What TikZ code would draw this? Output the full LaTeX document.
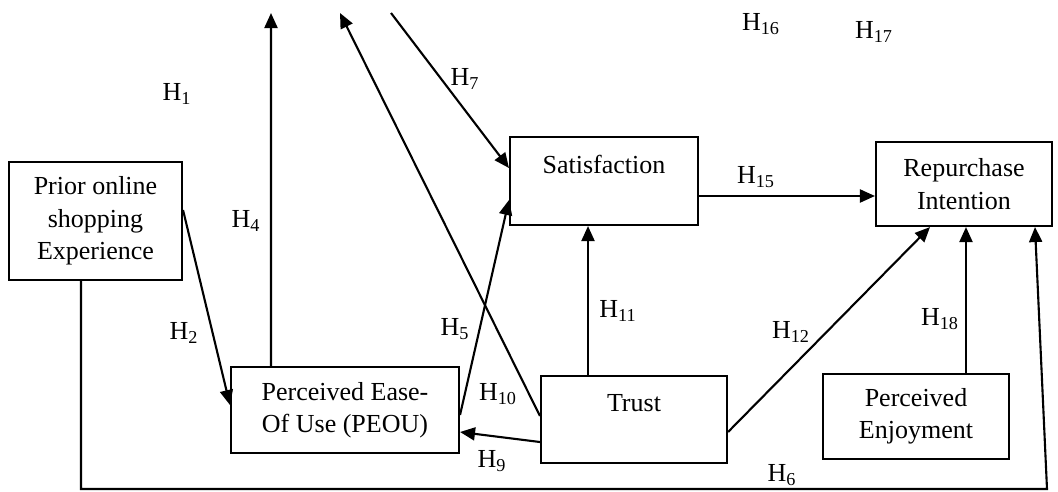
\documentclass[tikz,border=0pt]{standalone}
\usepackage{fontspec}
\setmainfont{Liberation Serif}
\usetikzlibrary{arrows.meta}

\begin{document}
\begin{tikzpicture}[x=0.02cm, y=-0.02cm, >={Triangle[length=0.3cm,width=0.26cm]},
  line width=1.2pt, font=\fontsize{14.8}{18.5}\selectfont,
  box/.style={draw, align=center, inner sep=0pt}]
  \useasboundingbox (0,0) rectangle (1058,491);
  % constructs
  \node[box, minimum width=3.46cm, minimum height=2.36cm] (prior) at (95.5,221) {Prior online\\shopping\\Experience};
  \node[box, minimum width=4.56cm, minimum height=1.72cm] (peou) at (345,410) {Perceived Ease-\\Of Use (PEOU)};
  \node[box, minimum width=3.76cm, minimum height=1.76cm] (sat) at (604,181) {Satisfaction\\\mbox{}};
  \node[box, minimum width=3.52cm, minimum height=1.68cm] (rep) at (964,184) {Repurchase\\Intention};
  \node[box, minimum width=3.72cm, minimum height=1.74cm] (trust) at (634,419.5) {Trust\\\mbox{}};
  \node[box, minimum width=3.72cm, minimum height=1.70cm] (enj) at (916,416.5) {Perceived\\Enjoyment};
  % free ends
  \coordinate (t4) at (271,13);
  \coordinate (t10) at (340,13);
  \coordinate (t7) at (391,13);
  \coordinate (base) at (1047,489);
  % paths
  \draw[->] ([yshift=0.22cm]prior.east) -- ([yshift=0.10cm]peou.west);
  \draw[->] ([xshift=-1.48cm]peou.north) -- (t4);
  \draw[->] ([yshift=0.07cm]trust.west) -- (t10);
  \draw[->] (t7) -- ([yshift=0.26cm]sat.west);
  \draw[->] ([yshift=-0.10cm]peou.east) -- ([yshift=-0.38cm]sat.west);
  \draw[->] ([yshift=-0.45cm]trust.west) -- ([yshift=-0.44cm]peou.east);
  \draw[->] ([xshift=-0.92cm]trust.north) -- ([xshift=-0.92cm]trust.north |- sat.south);
  \draw[->] ([yshift=-0.25cm]trust.east) -- ([xshift=-0.68cm]rep.south);
  \draw[->] ([xshift=1.00cm]enj.north) -- ([xshift=1.00cm]enj.north |- rep.south);
  \draw[->] ([yshift=-0.30cm]sat.east) -- ([yshift=-0.30cm]sat.east -| rep.west);
  \draw[->] ([xshift=-0.29cm]prior.south) -- ([xshift=-0.29cm]prior.south |- base) -- (base) -- ([xshift=1.42cm]rep.south);
  % hypothesis labels
  \foreach \n/\x/\y in {1/177/94, 2/184/333, 4/246/221, 5/455/329, 6/782/475, 7/465/79, 9/492/461,
      10/498/394, 11/618/311, 12/791/332, 15/756/177, 16/761/24, 17/874/32, 18/940/319}
    \node (h\n) at (\x,\y) {H\textsubscript{\n}};
\end{tikzpicture}
\end{document}
